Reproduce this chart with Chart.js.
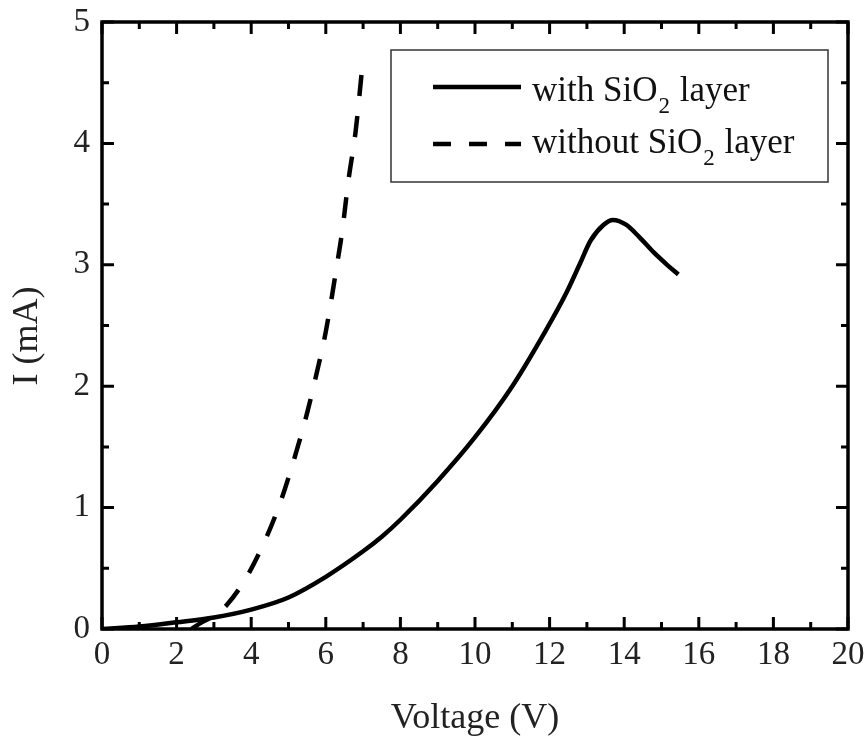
<!DOCTYPE html>
<html lang="en">
<head>
    <meta charset="UTF-8">
    <title>I-V curves</title>
    <script src="https://cdn.jsdelivr.net/npm/chart.js"></script>
    <style>
        html, body { margin: 0; padding: 0; background: #fff; }
    </style>
</head>
<body>
    <canvas id="chart" width="866" height="740"></canvas>
    <script>
        // data (V, mA)
        const withV = [0, 1, 2, 3, 4, 5, 6, 7, 7.5, 8, 9, 10, 11, 11.9, 12.45, 12.8, 13.1, 13.45, 13.7, 14.05, 14.4, 14.8, 15.15, 15.45];
        const withI = [0, 0.02, 0.055, 0.095, 0.16, 0.26, 0.43, 0.64, 0.76, 0.9, 1.22, 1.58, 2.0, 2.46, 2.77, 3.0, 3.2, 3.33, 3.37, 3.33, 3.23, 3.1, 3.0, 2.92];
        const withoutV = [2.4, 2.65, 3.0, 3.35, 3.9, 4.4, 4.8, 5.2, 5.5, 5.75, 6.0, 6.3, 6.45, 6.6, 6.8, 7.0];
        const withoutI = [0, 0.05, 0.11, 0.2, 0.44, 0.75, 1.06, 1.45, 1.78, 2.1, 2.45, 3.0, 3.3, 3.68, 4.1, 4.7];
        const xTicks = [0, 2, 4, 6, 8, 10, 12, 14, 16, 18, 20];
        const yTicks = [0, 1, 2, 3, 4, 5];
        const seriesNames = ["with SiO", "without SiO"];

        const font = "'Liberation Serif', 'Times New Roman', serif";

        // frame + inward ticks on all four sides, plus the y title
        const framePlugin = {
            id: "frame",
            afterDraw(chart) {
                const { ctx, chartArea: a, scales } = chart;
                ctx.save();
                ctx.strokeStyle = "#000";
                ctx.lineWidth = 3.5;
                ctx.strokeRect(a.left, a.top, a.right - a.left, a.bottom - a.top);
                ctx.lineWidth = 3;
                ctx.beginPath();
                for (let v = 0; v <= 20; v++) {
                    const x = scales.x.getPixelForValue(v);
                    const len = v % 2 === 0 ? 12 : 7;
                    ctx.moveTo(x, a.bottom); ctx.lineTo(x, a.bottom - len);
                    ctx.moveTo(x, a.top); ctx.lineTo(x, a.top + len);
                }
                for (let v = 0; v <= 5; v += 0.5) {
                    const y = scales.y.getPixelForValue(v);
                    const len = Number.isInteger(v) ? 12 : 7;
                    ctx.moveTo(a.left, y); ctx.lineTo(a.left + len, y);
                    ctx.moveTo(a.right, y); ctx.lineTo(a.right - len, y);
                }
                ctx.stroke();

                ctx.translate(28, 336);
                ctx.rotate(-Math.PI / 2);
                ctx.fillStyle = "#222";
                ctx.font = "36px " + font;
                ctx.textAlign = "center";
                ctx.textBaseline = "middle";
                ctx.fillText("I (mA)", 0, 0);
                ctx.restore();
            }
        };

        // boxed legend with subscript 2
        const legendPlugin = {
            id: "boxLegend",
            afterDraw(chart) {
                const ctx = chart.ctx;
                ctx.save();
                ctx.strokeStyle = "#333";
                ctx.lineWidth = 1.5;
                ctx.strokeRect(391, 50, 437, 132);
                const rows = [{ y: 87, base: 101, dash: [] }, { y: 144, base: 153, dash: [18, 18] }];
                rows.forEach((r, i) => {
                    ctx.strokeStyle = "#000";
                    ctx.lineWidth = 4.5;
                    ctx.setLineDash(r.dash);
                    ctx.beginPath();
                    ctx.moveTo(433, r.y);
                    ctx.lineTo(521, r.y);
                    ctx.stroke();
                    ctx.setLineDash([]);
                    ctx.fillStyle = "#111";
                    ctx.textBaseline = "alphabetic";
                    ctx.textAlign = "left";
                    ctx.font = "35px " + font;
                    let x = 532;
                    ctx.fillText(seriesNames[i], x, r.base);
                    x += ctx.measureText(seriesNames[i]).width;
                    ctx.font = "23px " + font;
                    ctx.fillText("2", x + 1, r.base + 12);
                    x += ctx.measureText("2").width + 2;
                    ctx.font = "35px " + font;
                    ctx.fillText(" layer", x, r.base);
                });
                ctx.restore();
            }
        };

        new Chart(document.getElementById("chart"), {
            type: "scatter",
            data: {
                datasets: [
                    {
                        label: "with SiO2 layer",
                        data: withV.map((v, i) => ({ x: v, y: withI[i] })),
                        showLine: true,
                        borderColor: "#000",
                        borderWidth: 4.5,
                        pointRadius: 0,
                        cubicInterpolationMode: "monotone"
                    },
                    {
                        label: "without SiO2 layer",
                        data: withoutV.map((v, i) => ({ x: v, y: withoutI[i] })),
                        showLine: true,
                        borderColor: "#000",
                        borderWidth: 4.5,
                        borderDash: [21, 20],
                        pointRadius: 0,
                        cubicInterpolationMode: "monotone"
                    }
                ]
            },
            options: {
                responsive: false,
                animation: false,
                devicePixelRatio: 1,
                layout: { padding: { top: 22, right: 18, left: 0, bottom: 0 } },
                plugins: { legend: { display: false }, tooltip: { enabled: false } },
                scales: {
                    x: {
                        type: "linear",
                        min: 0, max: 20,
                        afterBuildTicks: (s) => { s.ticks = xTicks.map(v => ({ value: v })); },
                        afterFit: (s) => { s.height = 111; s.paddingLeft = 0; s.paddingRight = 0; },
                        grid: { display: false, drawTicks: false },
                        border: { display: false },
                        ticks: { color: "#222", font: { family: font, size: 33 }, padding: 7, maxRotation: 0, autoSkip: false },
                        title: { display: true, text: "Voltage (V)", color: "#222", font: { family: font, size: 36 }, padding: { top: 0, bottom: 0 } }
                    },
                    y: {
                        type: "linear",
                        min: 0, max: 5,
                        afterBuildTicks: (s) => { s.ticks = yTicks.map(v => ({ value: v })); },
                        afterFit: (s) => { s.width = 102; s.paddingTop = 0; s.paddingBottom = 0; },
                        grid: { display: false, drawTicks: false },
                        border: { display: false },
                        ticks: { color: "#222", font: { family: font, size: 33 }, padding: 12, autoSkip: false }
                    }
                }
            },
            plugins: [framePlugin, legendPlugin]
        });
    </script>
</body>
</html>
